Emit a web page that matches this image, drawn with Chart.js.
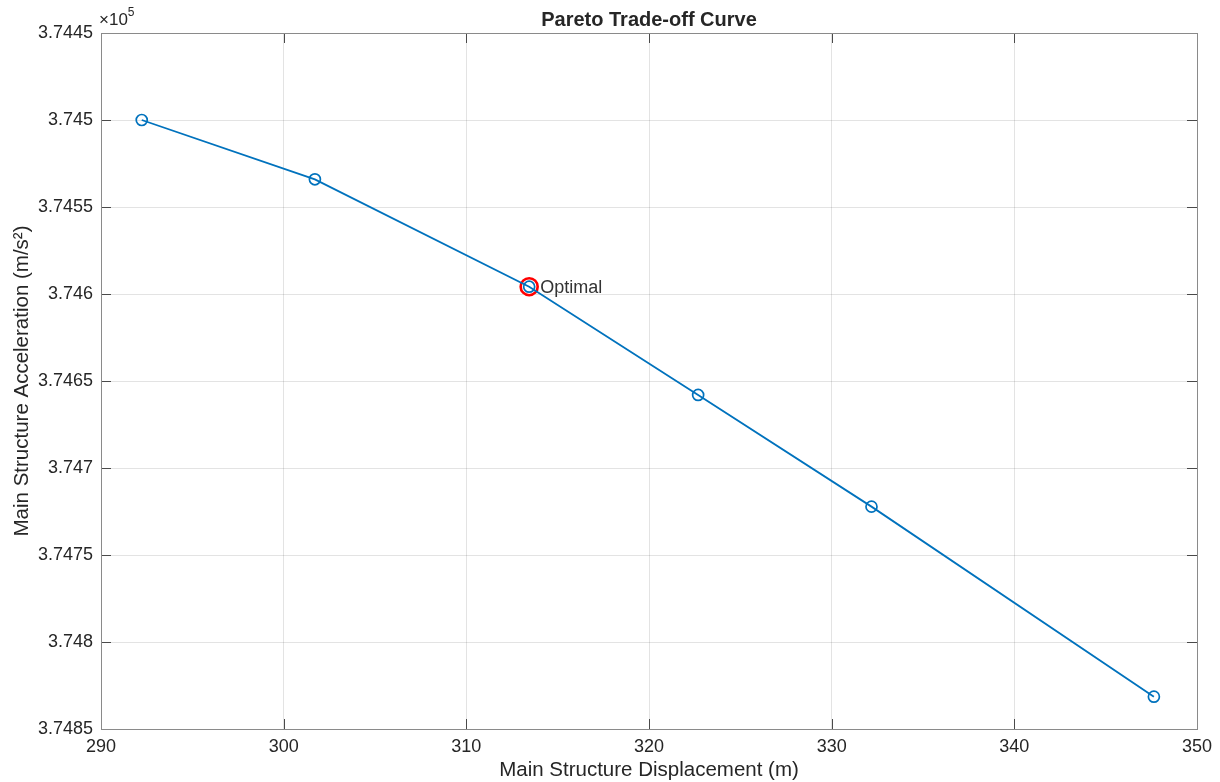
<!DOCTYPE html>
<html>
<head>
<meta charset="utf-8">
<script src="https://cdn.jsdelivr.net/npm/chart.js@4.4.1/dist/chart.umd.min.js"></script>
<style>
    html, body { margin: 0; padding: 0; background: #ffffff; }
    #paretoChart { display: block; }
</style>
</head>
<body>
<canvas id="paretoChart" width="1220" height="782"></canvas>
<script>
// Pareto front samples: displacement (m) vs acceleration (m/s^2)
const displacement = [292.23, 301.71, 313.44, 322.69, 332.18, 347.64];
const acceleration = [374500.0, 374534.1, 374595.8, 374658.0, 374722.2, 374831.4];
const optimalIndex = 2;
const optimalLabel = 'Optimal';

const xTicks = [290, 300, 310, 320, 330, 340, 350];
const yTicks = [374450, 374500, 374550, 374600, 374650, 374700, 374750, 374800, 374850];
const yExponent = 5;

const axisFont = "'Liberation Sans', Arial, sans-serif";
const lineBlue = '#0072bd';
const textColor = '#262626';

const points = displacement.map((x, i) => ({ x, y: acceleration[i] }));

// tick labels shown in units of 10^5, trailing zeros trimmed
const scaledTick = (v) => String(parseFloat((v / Math.pow(10, yExponent)).toFixed(4)));

const matlabAxes = {
    id: 'matlabAxes',
    afterDraw(chart) {
        const { ctx, chartArea: a, scales } = chart;
        const tickLen = 10;
        ctx.save();

        // inward tick marks on all four sides
        ctx.strokeStyle = '#4a4a4a';
        ctx.lineWidth = 1;
        ctx.beginPath();
        xTicks.forEach((t) => {
            const px = Math.round(scales.x.getPixelForValue(t)) + 0.5;
            ctx.moveTo(px, a.bottom); ctx.lineTo(px, a.bottom - tickLen);
            ctx.moveTo(px, a.top); ctx.lineTo(px, a.top + tickLen);
        });
        yTicks.forEach((t) => {
            const py = Math.round(scales.y.getPixelForValue(t)) + 0.5;
            ctx.moveTo(a.left, py); ctx.lineTo(a.left + tickLen, py);
            ctx.moveTo(a.right, py); ctx.lineTo(a.right - tickLen, py);
        });
        ctx.stroke();

        // axes box
        ctx.strokeStyle = '#8a8a8a';
        ctx.strokeRect(Math.round(a.left) + 0.5, Math.round(a.top) + 0.5,
            Math.round(a.right - a.left), Math.round(a.bottom - a.top));

        // exponent label over the y axis
        ctx.fillStyle = textColor;
        ctx.textBaseline = 'alphabetic';
        ctx.textAlign = 'left';
        ctx.font = '17px ' + axisFont;
        ctx.fillText('\u00d710', a.left - 2, a.top - 8);
        const w = ctx.measureText('\u00d710').width;
        ctx.font = '12px ' + axisFont;
        ctx.fillText(String(yExponent), a.left - 2 + w, a.top - 17);

        // label next to the optimal point
        const opt = points[optimalIndex];
        const ox = scales.x.getPixelForValue(opt.x);
        const oy = scales.y.getPixelForValue(opt.y);
        ctx.font = '18px ' + axisFont;
        ctx.fillStyle = '#333333';
        ctx.textBaseline = 'middle';
        ctx.fillText(optimalLabel, ox + 11, oy + 1);
        ctx.restore();
    },
};

new Chart(document.getElementById('paretoChart'), {
    type: 'scatter',
    data: {
        datasets: [
            {
                label: 'Pareto front',
                data: points,
                showLine: true,
                borderColor: lineBlue,
                borderWidth: 1.8,
                backgroundColor: 'rgba(0,0,0,0)',
                pointStyle: 'circle',
                pointRadius: 5.5,
                pointBorderWidth: 1.7,
                pointBorderColor: lineBlue,
                pointBackgroundColor: 'rgba(0,0,0,0)',
                tension: 0,
            },
            {
                label: 'Optimal',
                data: [points[optimalIndex]],
                showLine: false,
                pointRadius: 8.5,
                pointBorderWidth: 2.6,
                pointBorderColor: '#ff0000',
                pointBackgroundColor: 'rgba(0,0,0,0)',
            },
        ],
    },
    options: {
        responsive: false,
        animation: false,
        layout: { padding: { left: 0, right: 23, top: 0, bottom: 0 } },
        plugins: {
            legend: { display: false },
            tooltip: { enabled: false },
            title: {
                display: true,
                text: 'Pareto Trade-off Curve',
                fullSize: false,
                color: textColor,
                font: { family: axisFont, size: 20, weight: 'bold', lineHeight: 1.2 },
                padding: { top: 8, bottom: 1 },
            },
        },
        scales: {
            x: {
                type: 'linear',
                min: 290,
                max: 350,
                afterBuildTicks: (scale) => { scale.ticks = xTicks.map((value) => ({ value })); },
                afterFit: (scale) => { scale.height = 53; },
                grid: { color: 'rgba(38,38,38,0.13)', drawTicks: false },
                border: { display: false },
                ticks: { color: textColor, font: { family: axisFont, size: 18 }, padding: 7, maxRotation: 0 },
                title: {
                    display: true,
                    text: 'Main Structure Displacement (m)',
                    color: textColor,
                    font: { family: axisFont, size: 20.5 },
                    padding: { top: 0, bottom: -1 },
                },
            },
            y: {
                type: 'linear',
                reverse: true,
                min: 374450,
                max: 374850,
                afterBuildTicks: (scale) => { scale.ticks = yTicks.map((value) => ({ value })); },
                afterFit: (scale) => { scale.width = 101; },
                grid: { color: 'rgba(38,38,38,0.13)', drawTicks: false },
                border: { display: false },
                ticks: { color: textColor, font: { family: axisFont, size: 18 }, padding: 8, callback: scaledTick },
                title: {
                    display: true,
                    text: 'Main Structure Acceleration (m/s\u00b2)',
                    color: textColor,
                    font: { family: axisFont, size: 20.5 },
                    padding: { top: 10, bottom: 0 },
                },
            },
        },
    },
    plugins: [matlabAxes],
});
</script>
</body>
</html>
